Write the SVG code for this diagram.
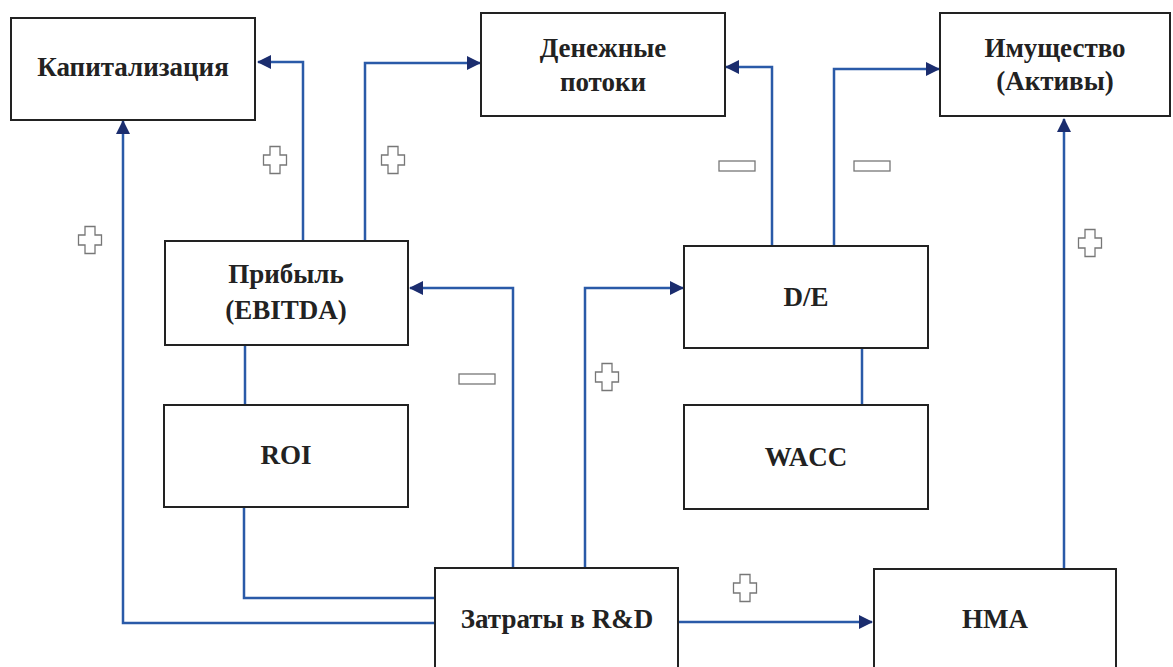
<svg xmlns="http://www.w3.org/2000/svg" width="1173" height="667" viewBox="0 0 1173 667">
<style>
.box{fill:#fff;stroke:#222;stroke-width:2}
.lbl{font-family:"Liberation Serif","Times New Roman",serif;font-weight:bold;font-size:27px;fill:#222;text-anchor:middle}
.con{fill:none;stroke:#2a5aa8;stroke-width:2.5}
.sign{fill:#fff;stroke:#777;stroke-width:1.3}
</style>
<defs>
<marker id="ah" markerUnits="userSpaceOnUse" markerWidth="14" markerHeight="14" refX="13" refY="7" orient="auto">
<path d="M0,0 L14,7 L0,14 Z" fill="#1b2d6e"/>
</marker>
<path id="plus" d="M-5,-13.5 H5 V-5 H11.5 V5 H5 V13.5 H-5 V5 H-11.5 V-5 H-5 Z"/>
<rect id="minus" x="-18" y="-5" width="36" height="10"/>
</defs>

<g id="connectors">
<path class="con" d="M303,241 V62 H258" marker-end="url(#ah)"/>
<path class="con" d="M365,241 V63 H480" marker-end="url(#ah)"/>
<path class="con" d="M772,246 V67 H726" marker-end="url(#ah)"/>
<path class="con" d="M834,246 V69 H939" marker-end="url(#ah)"/>
<path class="con" d="M435,623 H123 V121" marker-end="url(#ah)"/>
<path class="con" d="M1064,569 V119" marker-end="url(#ah)"/>
<path class="con" d="M245,345 V405"/>
<path class="con" d="M862,348 V405"/>
<path class="con" d="M244,507 V598 H435"/>
<path class="con" d="M513,568 V288 H410" marker-end="url(#ah)"/>
<path class="con" d="M585,568 V288 H683" marker-end="url(#ah)"/>
<path class="con" d="M678,622 H872" marker-end="url(#ah)"/>
</g>

<g id="signs">
<use href="#plus" class="sign" x="275" y="160"/>
<use href="#plus" class="sign" x="393" y="160"/>
<use href="#plus" class="sign" x="90" y="240"/>
<use href="#plus" class="sign" x="607" y="377"/>
<use href="#plus" class="sign" x="1090" y="243"/>
<use href="#plus" class="sign" x="745" y="588"/>
<use href="#minus" class="sign" x="737" y="166"/>
<use href="#minus" class="sign" x="872" y="166"/>
<use href="#minus" class="sign" x="477" y="379"/>
</g>

<g id="n-kap">
<rect class="box" x="11" y="18" width="244" height="102"/>
<text class="lbl" x="133" y="76">Капитализация</text>
</g>
<g id="n-den">
<rect class="box" x="481" y="13" width="244" height="103"/>
<text class="lbl" x="603" y="57">Денежные</text>
<text class="lbl" x="603" y="91">потоки</text>
</g>
<g id="n-im">
<rect class="box" x="940" y="13" width="230" height="103"/>
<text class="lbl" x="1055" y="57">Имущество</text>
<text class="lbl" x="1055" y="90">(Активы)</text>
</g>
<g id="n-prib">
<rect class="box" x="165" y="241" width="243" height="104"/>
<text class="lbl" x="286" y="283">Прибыль</text>
<text class="lbl" x="286" y="319">(EBITDA)</text>
</g>
<g id="n-de">
<rect class="box" x="684" y="246" width="244" height="102"/>
<text class="lbl" x="806" y="306">D/E</text>
</g>
<g id="n-roi">
<rect class="box" x="164" y="405" width="244" height="102"/>
<text class="lbl" x="286" y="464">ROI</text>
</g>
<g id="n-wacc">
<rect class="box" x="684" y="405" width="244" height="104"/>
<text class="lbl" x="806" y="466">WACC</text>
</g>
<g id="n-rd">
<rect class="box" x="435" y="568" width="243" height="110"/>
<text class="lbl" x="557" y="628">Затраты в R&amp;D</text>
</g>
<g id="n-nma">
<rect class="box" x="874" y="569" width="242" height="110"/>
<text class="lbl" x="995" y="628">НМА</text>
</g>
</svg>
